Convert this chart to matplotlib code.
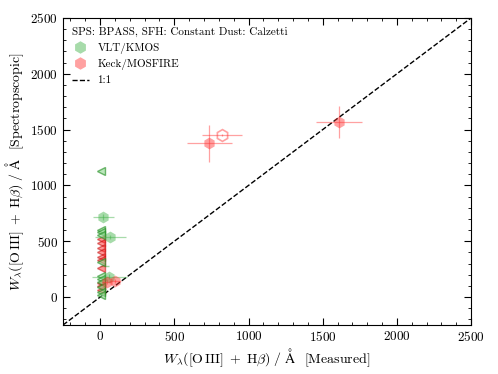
import matplotlib
matplotlib.use("Agg")
import matplotlib.pyplot as plt
from matplotlib.ticker import MultipleLocator

plt.rcParams['font.family'] = 'serif'
plt.rcParams['font.serif'] = ['cmr10']
plt.rcParams['mathtext.fontset'] = 'cm'
plt.rcParams['axes.formatter.use_mathtext'] = True

# ---- data ----
# upper limits in measured EW (plotted as left-pointing triangles at x~0)
kmos_lim_x = [5, 5, 5, 5, 5, 5, 5, 5, 5, 5, 5]
kmos_lim_y = [1126, 600, 580, 560, 317, 190, 165, 139, 93, 48, 18]
mosfire_lim_x = [5, 5, 5, 5, 5, 5, 5, 5, 5, 5]
mosfire_lim_y = [520, 480, 440, 400, 360, 335, 263, 127, 95, 63]

# detections
kmos_x = [22, 68, 63]
kmos_y = [718, 537, 184]
kmos_xerr = [70, 105, 115]
kmos_yerr = [30, 20, 20]

mosfire_x = [45, 101, 737, 1610]
mosfire_y = [139, 145, 1377, 1567]
mosfire_xerr = [30, 40, 150, 155]
mosfire_yerr = [20, 20, 165, 145]

mosfire_open_x = [820]
mosfire_open_y = [1452]
mosfire_open_xerr = [135]
mosfire_open_yerr = [10]

# stray error bar
stray_x = [30]
stray_y = [280]
stray_xerr = [30]

one_to_one = [-250, 2500]

green = '#3cb043'
red = '#ff3030'

fig = plt.figure(figsize=(4.98, 3.74), dpi=100)
ax = fig.add_axes([0.1265, 0.131, 0.8195, 0.821])

ax.plot(one_to_one, one_to_one, ls='--', color='black', lw=1, label='1:1', zorder=1)

ax.errorbar(stray_x, stray_y, xerr=stray_xerr, fmt='none', ecolor=green, alpha=0.5, lw=1)

ax.errorbar(kmos_x, kmos_y, xerr=kmos_xerr, yerr=kmos_yerr, fmt='h', ms=8.5,
            color=green, alpha=0.45, ecolor=green, elinewidth=0.9, mew=0, zorder=3)
ax.errorbar(mosfire_x, mosfire_y, xerr=mosfire_xerr, yerr=mosfire_yerr, fmt='h', ms=8.5,
            color=red, alpha=0.45, ecolor=red, elinewidth=0.9, mew=0, zorder=3)
ax.errorbar(mosfire_open_x, mosfire_open_y, xerr=mosfire_open_xerr, yerr=mosfire_open_yerr,
            fmt='h', ms=8.5, mfc='none', mec=red, color=red, alpha=0.45, ecolor=red,
            elinewidth=0.9, mew=1.2, zorder=3)

ax.plot(mosfire_lim_x, mosfire_lim_y, '<', ms=6, mfc=red, mec='#c00000', alpha=0.5,
        mew=1, ls='none', zorder=2)
ax.plot(kmos_lim_x, kmos_lim_y, '<', ms=6, mfc='#90d890', mec='#1a8a1a', alpha=0.6,
        mew=1, ls='none', zorder=2)

# legend handles
h1, = ax.plot([], [], 'h', ms=9, color=green, alpha=0.45, mew=0, label='VLT/KMOS')
h2, = ax.plot([], [], 'h', ms=9, color=red, alpha=0.45, mew=0, label='Keck/MOSFIRE')
h3, = ax.plot([], [], ls='--', color='black', lw=1, label='1:1')
leg = ax.legend(handles=[h1, h2, h3], loc='upper left', frameon=False, fontsize=8,
                title='SPS: BPASS, SFH: Constant Dust: Calzetti', title_fontsize=8,
                alignment='left', handlelength=1.5, borderaxespad=0.4)

ax.set_xlim(-250, 2500)
ax.set_ylim(-250, 2500)
ax.xaxis.set_major_locator(MultipleLocator(500))
ax.yaxis.set_major_locator(MultipleLocator(500))
ax.xaxis.set_minor_locator(MultipleLocator(100))
ax.yaxis.set_minor_locator(MultipleLocator(100))
ax.tick_params(which='both', direction='in', top=True, right=True, labelsize=9.5)
ax.tick_params(which='major', length=5)
ax.tick_params(which='minor', length=2.5)

lab = r'$W_\lambda([\mathrm{O\,III}]\;+\;\mathrm{H}\beta)\ /\ \mathrm{\AA}$  '
ax.set_xlabel(lab + '[Measured]', fontsize=10, labelpad=2)
ax.set_ylabel(lab + '[Spectropscopic]', fontsize=10, labelpad=3)

fig.savefig('out.png', dpi=100)
